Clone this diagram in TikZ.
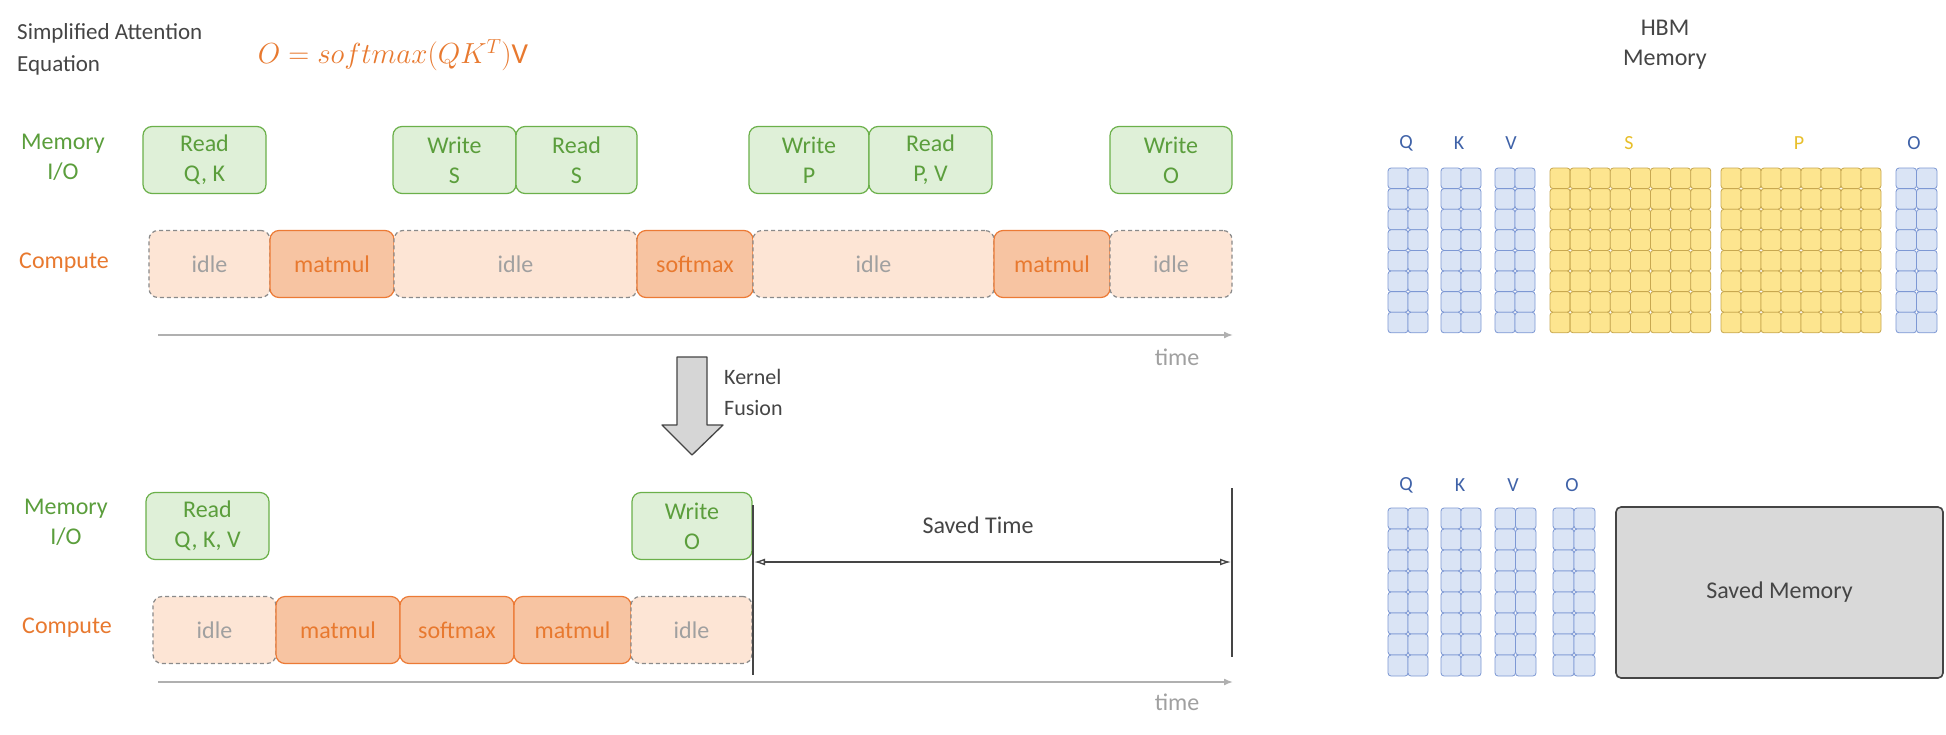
\RequirePackage{fix-cm}
\documentclass[tikz,border=0pt]{standalone}
\usepackage{fontspec}
\setmainfont{Carlito}
\usetikzlibrary{arrows.meta}
\definecolor{greenfill}{HTML}{DFF0D8}
\definecolor{greenline}{HTML}{6BB04A}
\definecolor{greentext}{HTML}{5B9E3C}
\definecolor{orangetext}{HTML}{E8792F}
\definecolor{idlefill}{HTML}{FDE5D5}
\definecolor{dashgray}{HTML}{8A8A8A}
\definecolor{idletext}{HTML}{A0A0A0}
\definecolor{actfill}{HTML}{F7C4A2}
\definecolor{actline}{HTML}{EC7A35}
\definecolor{axisgray}{HTML}{B0B0B0}
\definecolor{darktext}{HTML}{454545}
\definecolor{bluefill}{HTML}{DAE4F5}
\definecolor{blueline}{HTML}{7D98D4}
\definecolor{bluetext}{HTML}{3F62A8}
\definecolor{yellowfill}{HTML}{FDE58F}
\definecolor{yellowline}{HTML}{C8A850}
\definecolor{yellowtext}{HTML}{E8BF2A}
\definecolor{savedfill}{HTML}{D9D9D9}
\definecolor{arrowfill}{HTML}{D6D6D6}
\newcommand\mygrid[7]{%
  \foreach \i in {1,...,#3}{\foreach \j in {1,...,#4}{%
    \draw[#7] ({#1+(\i-1)*#5},{#2+(\j-1)*#6}) rectangle ++(#5,#6);}}}
\begin{document}
\begin{tikzpicture}[x=1pt,y=-1pt,
  txt/.style={inner sep=0pt, align=center, font=\fontsize{24}{30}\selectfont},
  anybox/.style={rounded corners=9pt, line width=1.2pt, minimum height=67pt, inner sep=0pt, align=center, font=\fontsize{24}{30}\selectfont},
  iobox/.style={anybox, draw=greenline, fill=greenfill, text=greentext},
  idlebox/.style={anybox, draw=dashgray, dash pattern=on 4pt off 3pt, fill=idlefill, text=idletext},
  actbox/.style={anybox, draw=actline, fill=actfill, text=orangetext},
  axis/.style={draw=axisgray, line width=1.6pt, -{Latex[length=9pt,width=7pt]}},
  vline/.style={draw=darktext, line width=1.3pt},
  cellblue/.style={draw=blueline, fill=bluefill, rounded corners=3pt, line width=0.8pt},
  cellyellow/.style={draw=yellowline, fill=yellowfill, rounded corners=3pt, line width=0.8pt},
  mlabel/.style={inner sep=0pt, font=\fontsize{20}{24}\selectfont}
]
\useasboundingbox (0,0) rectangle (1946,734);
\fill[white] (0,0) rectangle (1946,734);

% title and equation
\node[txt, anchor=west, align=left, text=darktext, font=\fontsize{23}{32}\selectfont] (title) at (17,49) {Simplified Attention\\Equation};
\node[inner sep=0pt, text=orangetext, font=\fontsize{29}{34}\selectfont] (eq) at (393,55) {$O = softmax(QK^{T})\mathrm{V}$};

% ---------- top timeline ----------
\node[txt, text=greentext] (mem1) at (63,157) {Memory\\I/O};
\node[txt, text=orangetext] (comp1) at (64,263) {Compute};

\node[iobox, minimum width=123pt] (rqk) at (204.5,160) {Read\\Q, K};
\node[iobox, minimum width=123pt] (ws) at (454.5,160) {Write\\S};
\node[iobox, minimum width=121pt] (rs) at (576.5,160) {Read\\S};
\node[iobox, minimum width=120pt] (wp) at (809,160) {Write\\P};
\node[iobox, minimum width=123pt] (rpv) at (930.5,160) {Read\\P, V};
\node[iobox, minimum width=122pt] (wo) at (1171,160) {Write\\O};

\node[idlebox, minimum width=121pt] (i1) at (209.5,264) {idle};
\node[actbox, minimum width=124pt] (m1) at (332,264) {matmul};
\node[idlebox, minimum width=243pt] (i2) at (515.5,264) {idle};
\node[actbox, minimum width=116pt] (sm) at (695,264) {softmax};
\node[idlebox, minimum width=241pt] (i3) at (873.5,264) {idle};
\node[actbox, minimum width=116pt] (m2) at (1052,264) {matmul};
\node[idlebox, minimum width=122pt] (i4) at (1171,264) {idle};

\coordinate (ax1s) at (158,335);
\coordinate (ax1e) at (1233,335);
\draw[axis] (ax1s) -- (ax1e);
\node[txt, text=idletext] (time1) at (1177,357) {time};

% kernel fusion arrow
\draw[draw=darktext, fill=arrowfill, line width=1.3pt, line join=round]
  (677,357) -- (707,357) -- (707,425) -- (723,425) -- (692,455) -- (662,425) -- (677,425) -- cycle;
\node[txt, anchor=west, align=left, text=darktext, font=\fontsize{22}{31}\selectfont] (kf) at (724,392) {Kernel\\Fusion};

% ---------- bottom timeline ----------
\node[txt, text=greentext] (mem2) at (66,522) {Memory\\I/O};
\node[txt, text=orangetext] (comp2) at (67,628) {Compute};

\node[iobox, minimum width=123pt] (rqkv) at (207.5,526) {Read\\Q, K, V};
\node[iobox, minimum width=120pt] (wo2) at (692,526) {Write\\O};

\node[idlebox, minimum width=123pt] (bi1) at (214.5,630) {idle};
\node[actbox, minimum width=124pt] (bm1) at (338,630) {matmul};
\node[actbox, minimum width=114pt] (bsm) at (457,630) {softmax};
\node[actbox, minimum width=117pt] (bm2) at (572.5,630) {matmul};
\node[idlebox, minimum width=121pt] (bi2) at (691.5,630) {idle};

\coordinate (ax2s) at (158,682);
\coordinate (ax2e) at (1233,682);
\draw[axis] (ax2s) -- (ax2e);
\node[txt, text=idletext] (time2) at (1177,702) {time};

% saved time
\coordinate (v1t) at (753,505);
\coordinate (v1b) at (753,675);
\coordinate (v2t) at (1232,488);
\coordinate (v2b) at (1232,657);
\draw[vline] (v1t) -- (v1b);
\draw[vline] (v2t) -- (v2b);
\coordinate (stl) at (754,562);
\coordinate (str) at (1231,562);
\draw[draw=darktext, line width=1.3pt, {Latex[open,length=11pt,width=7pt]}-{Latex[open,length=11pt,width=7pt]}] (stl) -- (str);
\node[txt, text=darktext] (savedtime) at (978,525) {Saved Time};

% ---------- HBM memory ----------
\node[txt, text=darktext, font=\fontsize{24}{30}\selectfont] (hbm) at (1665,45) {HBM\\Memory};

\node[mlabel, text=bluetext] (lq1) at (1406,143) {Q};
\node[mlabel, text=bluetext] (lk1) at (1459,143) {K};
\node[mlabel, text=bluetext] (lv1) at (1511,143) {V};
\node[mlabel, text=yellowtext] (ls1) at (1629,143) {S};
\node[mlabel, text=yellowtext] (lp1) at (1799,143) {P};
\node[mlabel, text=bluetext] (lo1) at (1914,143) {O};

\mygrid{1388}{168}{2}{8}{20}{20.6}{cellblue}
\mygrid{1441}{168}{2}{8}{20}{20.6}{cellblue}
\mygrid{1495}{168}{2}{8}{20}{20.6}{cellblue}
\mygrid{1550}{168}{8}{8}{20.1}{20.6}{cellyellow}
\mygrid{1721}{168}{8}{8}{20}{20.6}{cellyellow}
\mygrid{1896}{168}{2}{8}{20.5}{20.6}{cellblue}

\node[mlabel, text=bluetext] (lq2) at (1406,485) {Q};
\node[mlabel, text=bluetext] (lk2) at (1460,485) {K};
\node[mlabel, text=bluetext] (lv2) at (1513,485) {V};
\node[mlabel, text=bluetext] (lo2) at (1572,485) {O};

\mygrid{1388}{508}{2}{8}{20}{21}{cellblue}
\mygrid{1441}{508}{2}{8}{20}{21}{cellblue}
\mygrid{1495}{508}{2}{8}{20.5}{21}{cellblue}
\mygrid{1553}{508}{2}{8}{21}{21}{cellblue}

\node[draw=darktext, fill=savedfill, line width=1.6pt, rounded corners=5pt, minimum width=327pt, minimum height=171pt, inner sep=0pt, text=darktext, font=\fontsize{24}{30}\selectfont] (savedmem) at (1779.5,592.5) {Saved Memory};
\end{tikzpicture}
\end{document}
